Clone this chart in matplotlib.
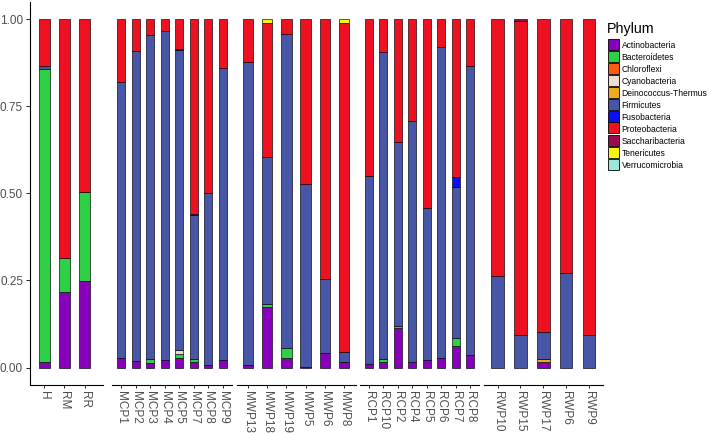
import matplotlib
matplotlib.use("Agg")
import matplotlib.pyplot as plt
from matplotlib.patches import Rectangle
import numpy as np

plt.rcParams['font.family'] = ['Liberation Sans', 'DejaVu Sans']

samples = ["H", "RM", "RR",
           "MCP1", "MCP2", "MCP3", "MCP4", "MCP5", "MCP7", "MCP8", "MCP9",
           "MWP13", "MWP18", "MWP19", "MWP5", "MWP6", "MWP8",
           "RCP1", "RCP10", "RCP2", "RCP4", "RCP5", "RCP6", "RCP7", "RCP8",
           "RWP10", "RWP15", "RWP17", "RWP6", "RWP9"]
group_sizes = [3, 8, 6, 8, 5]

phyla = ["Actinobacteria", "Bacteroidetes", "Chloroflexi", "Cyanobacteria",
         "Deinococcus-Thermus", "Firmicutes", "Fusobacteria", "Proteobacteria",
         "Saccharibacteria", "Tenericutes", "Verrucomicrobia"]
colors = ["#8800BB", "#2ED145", "#FF5A0F", "#EBDDD5", "#EFAA22", "#4756A6",
          "#0A10F5", "#EE1122", "#9B0B4E", "#F5F510", "#9AE6DA"]

#                 H      RM     RR     MCP1   MCP2   MCP3   MCP4   MCP5   MCP7   MCP8   MCP9   MWP13  MWP18  MWP19  MWP5   MWP6   MWP8   RCP1   RCP10  RCP2   RCP4   RCP5   RCP6   RCP7   RCP8   RWP10  RWP15  RWP17  RWP6   RWP9
actinobacteria = [0.017, 0.216, 0.249, 0.028, 0.019, 0.014, 0.022, 0.027, 0.017, 0.008, 0.022, 0.006, 0.173, 0.027, 0.002, 0.041, 0.017, 0.010, 0.015, 0.113, 0.017, 0.022, 0.027, 0.062, 0.036, 0.000, 0.000, 0.017, 0.000, 0.000]
bacteroidetes  = [0.840, 0.099, 0.256, 0.000, 0.000, 0.010, 0.000, 0.012, 0.008, 0.000, 0.000, 0.000, 0.009, 0.029, 0.000, 0.000, 0.000, 0.000, 0.009, 0.007, 0.000, 0.000, 0.000, 0.022, 0.000, 0.000, 0.000, 0.000, 0.000, 0.000]
chloroflexi    = [0.000] * 30
cyanobacteria  = [0.000, 0.000, 0.000, 0.000, 0.000, 0.000, 0.000, 0.012, 0.000, 0.000, 0.000, 0.000, 0.000, 0.000, 0.000, 0.000, 0.000, 0.000, 0.000, 0.000, 0.000, 0.000, 0.000, 0.000, 0.000, 0.000, 0.000, 0.000, 0.000, 0.000]
deinococcus    = [0.000, 0.000, 0.000, 0.000, 0.000, 0.000, 0.000, 0.000, 0.000, 0.000, 0.000, 0.000, 0.000, 0.000, 0.000, 0.000, 0.000, 0.000, 0.000, 0.000, 0.000, 0.000, 0.000, 0.000, 0.000, 0.000, 0.000, 0.007, 0.000, 0.000]
firmicutes     = [0.007, 0.000, 0.000, 0.790, 0.890, 0.930, 0.943, 0.860, 0.413, 0.494, 0.838, 0.872, 0.423, 0.901, 0.525, 0.213, 0.029, 0.540, 0.882, 0.528, 0.690, 0.437, 0.893, 0.435, 0.829, 0.263, 0.094, 0.077, 0.271, 0.094]
fusobacteria   = [0.000, 0.000, 0.000, 0.000, 0.000, 0.000, 0.000, 0.003, 0.004, 0.000, 0.000, 0.000, 0.000, 0.000, 0.000, 0.000, 0.000, 0.000, 0.000, 0.000, 0.000, 0.000, 0.000, 0.029, 0.000, 0.000, 0.000, 0.000, 0.000, 0.000]
proteobacteria = [0.136, 0.685, 0.495, 0.182, 0.091, 0.046, 0.035, 0.086, 0.558, 0.498, 0.140, 0.122, 0.383, 0.043, 0.473, 0.746, 0.942, 0.450, 0.094, 0.352, 0.293, 0.541, 0.080, 0.452, 0.135, 0.737, 0.901, 0.899, 0.729, 0.906]
saccharibacteria = [0.000, 0.000, 0.000, 0.000, 0.000, 0.000, 0.000, 0.000, 0.000, 0.000, 0.000, 0.000, 0.000, 0.000, 0.000, 0.000, 0.000, 0.000, 0.000, 0.000, 0.000, 0.000, 0.000, 0.000, 0.000, 0.000, 0.005, 0.000, 0.000, 0.000]
tenericutes    = [0.000, 0.000, 0.000, 0.000, 0.000, 0.000, 0.000, 0.000, 0.000, 0.000, 0.000, 0.000, 0.012, 0.000, 0.000, 0.000, 0.012, 0.000, 0.000, 0.000, 0.000, 0.000, 0.000, 0.000, 0.000, 0.000, 0.000, 0.000, 0.000, 0.000]
verrucomicrobia = [0.000] * 30

series = [actinobacteria, bacteroidetes, chloroflexi, cyanobacteria, deinococcus,
          firmicutes, fusobacteria, proteobacteria, saccharibacteria, tenericutes,
          verrucomicrobia]

y_ticks = [0.0, 0.25, 0.5, 0.75, 1.0]
y_labels = ["0.00", "0.25", "0.50", "0.75", "1.00"]

W, H = 709, 433
fig = plt.figure(figsize=(W / 100, H / 100), dpi=100)

# panel extents in pixels (left, right)
panels_px = [(30, 103), (112.2, 231.8), (236.5, 355.5), (360.3, 478.7), (483.8, 602.7)]
xlims = [(-0.7, 2.9), None, None, None, None]
top_px, bot_px = 1.6, 385.0

grey = "#4D4D4D"
start = 0
vals = np.array(series)
for gi, n in enumerate(group_sizes):
    l, r = panels_px[gi]
    ax = fig.add_axes([l / W, (H - bot_px) / H, (r - l) / W, (bot_px - top_px) / H])
    idx = list(range(start, start + n))
    x = np.arange(n)
    bottom = np.zeros(n)
    for k, s in enumerate(series):
        v = vals[k, idx]
        mask = v > 0
        if mask.any():
            ax.bar(x[mask], v[mask], bottom=bottom[mask], width=0.55,
                   color=colors[k], edgecolor="black", linewidth=0.45)
        bottom += v
    ax.set_ylim(-0.05, 1.05)
    if xlims[gi] is None:
        ax.set_xlim(-0.6, n - 0.4)
    else:
        ax.set_xlim(*xlims[gi])
    ax.set_xticks(x)
    ax.set_xticklabels([samples[i] for i in idx], rotation=270, fontsize=8.5, color=grey)
    ax.tick_params(axis="x", length=2.5, width=0.6, pad=2, colors="black", labelcolor=grey)
    for sp in ["top", "right"]:
        ax.spines[sp].set_visible(False)
    ax.spines["bottom"].set_linewidth(0.8)
    if gi == 0:
        ax.set_yticks(y_ticks)
        ax.set_yticklabels(y_labels, fontsize=8.5, color=grey)
        ax.tick_params(axis="y", length=3, width=0.6, pad=2, labelcolor=grey)
        ax.spines["left"].set_linewidth(0.8)
    else:
        ax.spines["left"].set_visible(False)
        ax.set_yticks([])
    ax.patch.set_alpha(0)
    start += n

# manual legend (pixel layout, figure coordinates)
def fx(px):
    return px / W

def fy(py):
    return 1 - py / H

fig.text(fx(607), fy(33.5), "Phylum", fontsize=10.3, color="black",
         ha="left", va="baseline")
key_l, key_w, key_h, pitch, top0 = 608.3, 11.0, 11.0, 12.0, 38.5
for i, (name, c) in enumerate(zip(phyla, colors)):
    ty = top0 + i * pitch
    fig.add_artist(Rectangle((fx(key_l), fy(ty + key_h)), key_w / W, key_h / H,
                             transform=fig.transFigure, facecolor=c,
                             edgecolor="black", linewidth=0.6))
    fig.text(fx(621.7), fy(ty + key_h / 2), name, fontsize=6.15, color="black",
             ha="left", va="center_baseline")

fig.savefig("out.png", dpi=100)
